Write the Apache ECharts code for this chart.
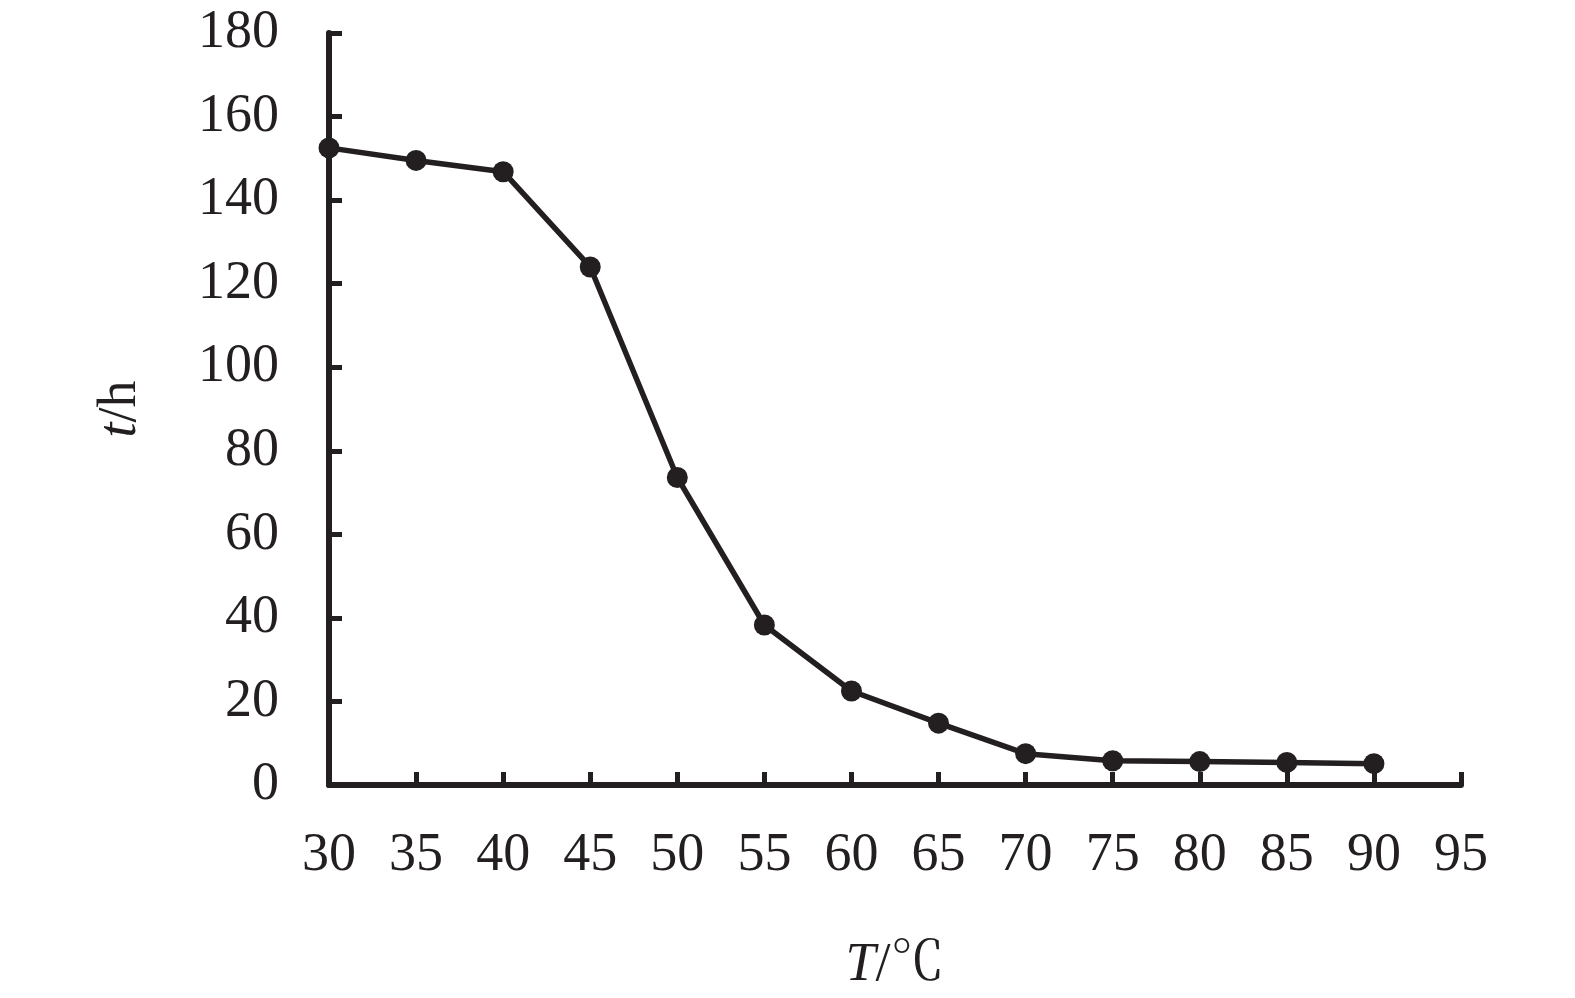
<!DOCTYPE html>
<html><head><meta charset="utf-8">
<script src="https://cdn.jsdelivr.net/npm/echarts@6/dist/echarts.min.js"></script>
<style>html,body{margin:0;padding:0;background:#fff}#c{width:1575px;height:998px}</style>
</head><body><div id="c"></div>
<script>
var temps = [30, 35, 40, 45, 50, 55, 60, 65, 70, 75, 80, 85, 90];
var hours = [152.5, 149.5, 146.8, 124, 73.6, 38.3, 22.5, 14.8, 7.5, 5.8, 5.6, 5.4, 5.1];
var xTicks = {min: 30, max: 95, interval: 5};
var yTicks = {min: 0, max: 180, interval: 20};

var ink = '#231f20';
var serif = '"Liberation Serif", "Times New Roman", "Noto Serif CJK SC", "Noto Sans CJK SC", serif';
var chart = echarts.init(document.getElementById('c'));
chart.setOption({
  animation: false,
  backgroundColor: '#fff',
  grid: {left: 329, right: 114, top: 33, bottom: 212},
  xAxis: {
    type: 'value', min: xTicks.min, max: xTicks.max, interval: xTicks.interval,
    splitLine: {show: false},
    axisLine: {show: true, onZero: false, lineStyle: {color: ink, width: 6}},
    axisTick: {show: true, inside: true, length: 13, lineStyle: {color: ink, width: 5}},
    axisLabel: {color: ink, fontFamily: serif, fontSize: 54, margin: 44},
    name: '{i|T}{n|/℃}', nameLocation: 'middle', nameGap: 154,
    nameTextStyle: {rich: {
      i: {fontFamily: serif, fontStyle: 'italic', fontSize: 54, color: ink},
      n: {fontFamily: serif, fontSize: 54, color: ink}
    }}
  },
  yAxis: {
    type: 'value', min: yTicks.min, max: yTicks.max, interval: yTicks.interval,
    splitLine: {show: false},
    axisLine: {show: true, lineStyle: {color: ink, width: 6}},
    axisTick: {show: true, inside: true, length: 13, lineStyle: {color: ink, width: 5}},
    axisLabel: {color: ink, fontFamily: serif, fontSize: 54, margin: 50},
    name: '{i|t}{n|/h}', nameLocation: 'middle', nameGap: 181,
    nameTextStyle: {rich: {
      i: {fontFamily: serif, fontStyle: 'italic', fontSize: 54, color: ink},
      n: {fontFamily: serif, fontSize: 54, color: ink}
    }}
  },
  series: [{
    type: 'line',
    data: temps.map(function (t, i) { return [t, hours[i]]; }),
    symbol: 'circle', symbolSize: 21,
    lineStyle: {color: ink, width: 5.5},
    itemStyle: {color: ink},
    clip: false
  }]
});
</script></body></html>
